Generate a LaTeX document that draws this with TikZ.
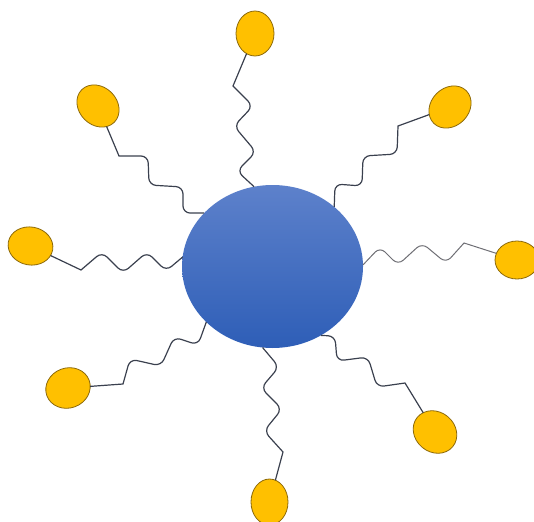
\documentclass[tikz,border=0pt]{standalone}
\usetikzlibrary{shapes.geometric}
\definecolor{nucleoArriba}{RGB}{93,129,203}
\definecolor{nucleoAbajo}{RGB}{46,94,183}
\definecolor{bolaRelleno}{RGB}{255,192,0}
\definecolor{bolaBorde}{RGB}{140,105,10}
\definecolor{cadenaOscura}{RGB}{58,64,78}
\definecolor{cadenaClara}{RGB}{110,110,116}
\tikzset{
  nucleo/.style={ellipse, minimum width=181pt, minimum height=163pt, inner sep=0pt, outer sep=0pt, top color=nucleoArriba, bottom color=nucleoAbajo},
  bola/.style={ellipse, draw=bolaBorde, fill=bolaRelleno, line width=0.8pt, inner sep=0pt, outer sep=0pt},
  cadena/.style={draw=cadenaOscura, line width=1.2pt},
  cadenaclara/.style={draw=cadenaClara, line width=1pt},
}
\begin{document}
\begin{tikzpicture}[x=1pt, y=-1pt]
\useasboundingbox (0,0) rectangle (534,521);
% Núcleo
\node[nucleo] (nuc) at (272.5,266.5) {};
% Cabezas
\node[bola, minimum width=38pt, minimum height=45pt] (arr) at (255,33.5) {};
\node[bola, minimum width=46pt, minimum height=38pt, rotate=-45] (arrizq) at (98,106) {};
\node[bola, minimum width=46pt, minimum height=38pt, rotate=45] (arrder) at (450,107) {};
\node[bola, minimum width=45pt, minimum height=38pt, rotate=-10] (izq) at (30.5,246) {};
\node[bola, minimum width=44pt, minimum height=38pt] (der) at (517,260) {};
\node[bola, minimum width=45pt, minimum height=40pt, rotate=20] (abizq) at (68,388) {};
\node[bola, minimum width=46pt, minimum height=40pt, rotate=-40] (abder) at (435,432) {};
\node[bola, minimum width=37pt, minimum height=46pt] (ab) at (269.5,502) {};
% Cadenas
\draw[cadena] (arr) -- (233,86) [rounded corners=7pt] -- ++(20,20) -- ++(-19,20) -- ++(22,26) -- ++(-19,19) -- (nuc.103);
\draw[cadena] (arrizq) -- (119,156) [rounded corners=7pt] -- ++(29,0) -- ++(1,29) -- ++(34,2) -- ++(0,26) -- (nuc.142);
\draw[cadena] (arrder) -- (398,126) [rounded corners=7pt] -- ++(-1,28) -- ++(-34,2) -- ++(-1,30) -- ++(-27,-2) -- (nuc.44);
\draw[cadena] (izq) -- (81,270) [rounded corners=7pt] -- ++(21,-18) -- ++(21,21) -- ++(24,-21) -- ++(19,19) -- (nuc.174);
\draw[cadenaclara] (der) -- (464,243) [rounded corners=7pt] -- ++(-18,20) -- ++(-24,-20) -- ++(-24,22) -- ++(-18,-18) -- (nuc.1);
\draw[cadena] (abizq) -- (123,384) [rounded corners=7pt] -- ++(7,-25) -- ++(31,7) -- ++(13,-29) -- ++(24,8) -- (nuc.220);
\draw[cadena] (abder) -- (405,383) [rounded corners=7pt] -- ++(-28,4) -- ++(-9,-30) -- ++(-31,4) -- ++(-2,-25) -- (nuc.305);
\draw[cadena] (ab) -- (283,452) [rounded corners=7pt] -- ++(-19,-21) -- ++(18,-22) -- ++(-21,-21) -- ++(18,-21) -- (nuc.263);
\end{tikzpicture}
\end{document}
